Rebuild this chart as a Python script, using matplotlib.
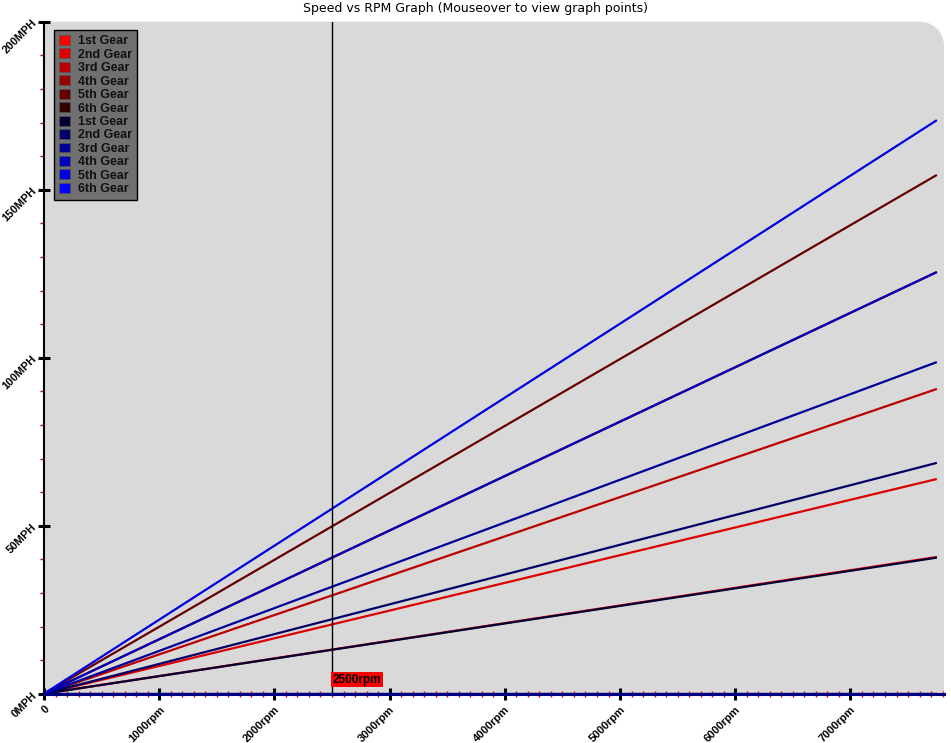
import numpy as np
import matplotlib
matplotlib.use("Agg")
import matplotlib.pyplot as plt
from matplotlib.patches import Polygon, Patch
from matplotlib.ticker import MultipleLocator, FixedLocator, FixedFormatter

# ---------------- data ----------------
rpm_range = [0, 7750]
gear_labels = ["1st Gear", "2nd Gear", "3rd Gear", "4th Gear", "5th Gear", "6th Gear"]
red_top_speeds = [40.7, 63.9, 90.7, 125.5, 154.4, 0.0]     # mph at max rpm
blue_top_speeds = [40.5, 68.7, 98.7, 125.5, 170.7, 0.0]    # mph at max rpm
red_colors = ["#ff0000", "#dd0000", "#bb0000", "#990000", "#660000", "#330000"]
blue_colors = ["#000033", "#000066", "#000099", "#0000bb", "#0000dd", "#0000ff"]
x_ticks = [0, 1000, 2000, 3000, 4000, 5000, 6000, 7000]
x_tick_labels = ["0", "1000rpm", "2000rpm", "3000rpm", "4000rpm", "5000rpm", "6000rpm", "7000rpm"]
y_ticks = [0, 50, 100, 150, 200]
y_tick_labels = ["0MPH", "50MPH", "100MPH", "150MPH", "200MPH"]
marker_rpm = 2500
marker_label = "2500rpm"
title = "Speed vs RPM Graph (Mouseover to view graph points)"

# ---------------- figure ----------------
W, H = 951, 743
fig = plt.figure(figsize=(W / 100, H / 100), dpi=100)
fig.patch.set_facecolor("white")
ax_l, ax_r, ax_b, ax_t = 44, 944, 693.7, 21.7
ax = fig.add_axes([ax_l / W, (H - ax_b) / H, (ax_r - ax_l) / W, (ax_b - ax_t) / H])
ax.set_xlim(0, 7812)
ax.set_ylim(0, 200)
ax.patch.set_visible(False)

# background with rounded top-right corner
wpx, hpx = ax_r - ax_l, ax_b - ax_t
r = 24
rx, ry = r / wpx, r / hpx
th = np.linspace(0, np.pi / 2, 30)
arc = np.column_stack([1 - rx + rx * np.cos(th), 1 - ry + ry * np.sin(th)])
pts = np.vstack([[0, 0], [1, 0], arc, [0, 1]])
bg = Polygon(pts, closed=True, transform=ax.transAxes, facecolor="#d9d9d9",
             edgecolor="none", zorder=0, clip_on=False)
ax.add_patch(bg)

# lines
for spd, c in zip(red_top_speeds, red_colors):
    ax.plot(rpm_range, [0, spd], color=c, lw=1.6, zorder=2, solid_capstyle="butt")
for spd, c in zip(blue_top_speeds, blue_colors):
    ax.plot(rpm_range, [0, spd], color=c, lw=1.6, zorder=2, solid_capstyle="butt")

# marker line
ax.plot([marker_rpm, marker_rpm], [0, 200], color="black", lw=1.0, zorder=3)
ax.text(marker_rpm + 5, 2.4, marker_label, fontsize=8.5, fontweight="bold",
        family="Liberation Sans", color="black", ha="left", va="bottom", zorder=4,
        bbox=dict(boxstyle="square,pad=0.12", facecolor="#ff0000", edgecolor="none"))

# spines
for s in ["top", "right"]:
    ax.spines[s].set_visible(False)
ax.spines["left"].set_color("black")
ax.spines["left"].set_linewidth(1.5)
ax.spines["bottom"].set_color("#000080")
ax.spines["bottom"].set_linewidth(2.2)
ax.spines["bottom"].set_zorder(5)

# ticks
ax.xaxis.set_major_locator(FixedLocator(x_ticks))
ax.xaxis.set_major_formatter(FixedFormatter(x_tick_labels))
ax.yaxis.set_major_locator(FixedLocator(y_ticks))
ax.yaxis.set_major_formatter(FixedFormatter(y_tick_labels))
ax.xaxis.set_minor_locator(MultipleLocator(100))
ax.yaxis.set_minor_locator(MultipleLocator(10))
ax.tick_params(which="major", direction="inout", length=9, width=2.2, color="black")
ax.tick_params(axis="x", which="minor", direction="inout", length=5, width=1.0, color="#ee0000")
ax.tick_params(axis="y", which="minor", direction="out", length=3, width=1.0, color="#cc0000")
ax.tick_params(axis="x", which="major", pad=3)
ax.tick_params(axis="y", which="major", pad=2)

for lbl in ax.get_xticklabels():
    lbl.set_rotation(45)
    lbl.set_ha("right")
    lbl.set_va("top")
    lbl.set_rotation_mode("anchor")
    lbl.set_fontsize(8)
    lbl.set_fontweight("bold")
    lbl.set_family("Liberation Sans")
for lbl in ax.get_yticklabels():
    lbl.set_rotation(45)
    lbl.set_ha("right")
    lbl.set_va("center")
    lbl.set_rotation_mode("anchor")
    lbl.set_fontsize(8)
    lbl.set_fontweight("bold")
    lbl.set_family("Liberation Sans")

# legend
handles = [Patch(facecolor=c, edgecolor="#555555", lw=0.5) for c in red_colors + blue_colors]
labels = gear_labels + gear_labels
leg = ax.legend(handles, labels, loc="upper left",
                bbox_to_anchor=((54 - ax_l) / wpx, 1 - (30 - ax_t) / hpx),
                prop={"family": "Liberation Sans", "weight": "bold", "size": 9},
                facecolor="#707070", edgecolor="black", framealpha=1, fancybox=False,
                handlelength=0.85, handleheight=0.85, handletextpad=0.65,
                labelspacing=0.09, borderpad=0.4, borderaxespad=0)
leg.get_frame().set_linewidth(1.0)
for t in leg.get_texts():
    t.set_color("#111111")

fig.text(0.5, 1 - 8.5 / H, title, ha="center", va="center", fontsize=9,
         family="DejaVu Sans", color="black")

fig.savefig("out.png", dpi=100)
